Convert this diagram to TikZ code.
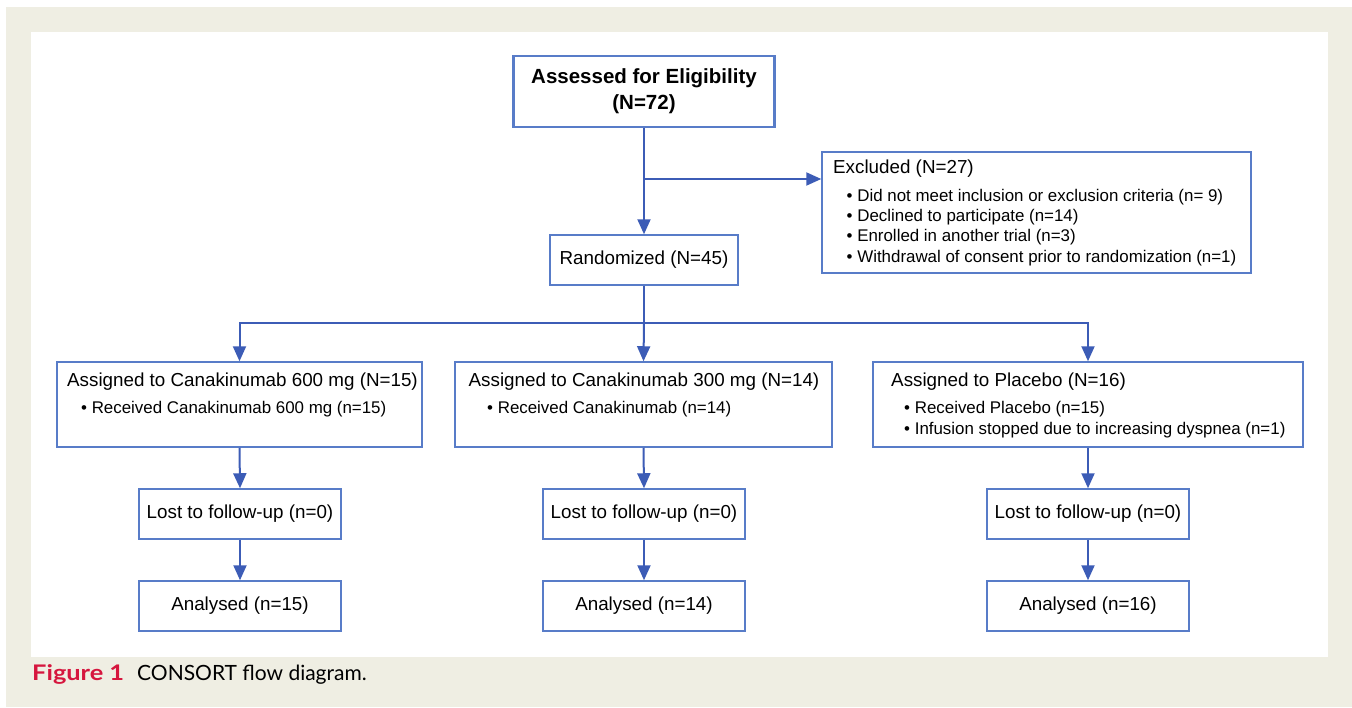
\documentclass[tikz,border=0pt]{standalone}
\usepackage{fontspec}
\setmainfont{Liberation Sans}
\newfontfamily\capfont{Lato}
\usetikzlibrary{arrows.meta}
\definecolor{beige}{RGB}{239,238,227}
\definecolor{boxblue}{RGB}{88,124,200}
\definecolor{lineblue}{RGB}{60,92,182}
\definecolor{figred}{RGB}{214,22,62}
\tikzset{
  box/.style={draw=boxblue, line width=1.5pt, fill=white, rectangle, inner sep=0pt, align=center,
    font=\fontsize{18.8}{22}\selectfont},
  head/.style={anchor=base west, inner sep=0pt, font=\fontsize{18.8}{22}\selectfont},
  item/.style={anchor=base west, inner sep=0pt, font=\fontsize{16.9}{20}\selectfont},
  conn/.style={draw=lineblue, line width=2pt},
  arr/.style={conn, -{Triangle[length=15pt,width=13pt]}},
}
\begin{document}
\begin{tikzpicture}[x=1pt,y=-1pt]
\useasboundingbox (0,0) rectangle (1352,707);
\fill[white] (0,0) rectangle (1352,707);
\fill[beige] (6,7) rectangle (1352,707);
\fill[white] (31,32) rectangle (1328,657);

% top
\node[box, line width=2.5pt, minimum width=261pt, minimum height=71pt,
  font=\fontsize{20.5}{26}\selectfont\bfseries] (assess) at (644,91.5)
  {Assessed for Eligibility\\(N=72)};
\node[box, minimum width=429pt, minimum height=121pt] (excl) at (1036.5,212.5) {};
\node[head] (exclh) at (833,173) {Excluded (N=27)};
\node[item] (ex1) at (846.5,201) {• Did not meet inclusion or exclusion criteria (n= 9)};
\node[item] (ex2) at (846.5,221.3) {• Declined to participate (n=14)};
\node[item] (ex3) at (846.5,241.6) {• Enrolled in another trial (n=3)};
\node[item] (ex4) at (846.5,262) {• Withdrawal of consent prior to randomization (n=1)};

\node[box, minimum width=188pt, minimum height=50pt] (rand) at (644,260) {Randomized (N=45)};

% arms
\node[box, minimum width=365pt, minimum height=85pt] (arm1) at (239.5,404.5) {};
\node[head] (arm1h) at (67,386) {Assigned to Canakinumab 600 mg (N=15)};
\node[item] (arm1a) at (81,413) {• Received Canakinumab 600 mg (n=15)};

\node[box, minimum width=377pt, minimum height=85pt] (arm2) at (643.5,404.5) {};
\node[head] (arm2h) at (468.5,386) {Assigned to Canakinumab 300 mg (N=14)};
\node[item] (arm2a) at (487,413) {• Received Canakinumab (n=14)};

\node[box, minimum width=430pt, minimum height=85pt] (arm3) at (1088,404.5) {};
\node[head] (arm3h) at (891,386) {Assigned to Placebo (N=16)};
\node[item] (arm3a) at (904,413) {• Received Placebo (n=15)};
\node[item] (arm3b) at (904,434) {• Infusion stopped due to increasing dyspnea (n=1)};

% lost / analysed
\node[box, minimum width=202pt, minimum height=50pt] (lost1) at (240,514) {Lost to follow-up (n=0)};
\node[box, minimum width=202pt, minimum height=50pt] (lost2) at (644,514) {Lost to follow-up (n=0)};
\node[box, minimum width=202pt, minimum height=50pt] (lost3) at (1088,514) {Lost to follow-up (n=0)};
\node[box, minimum width=202pt, minimum height=50pt] (anal1) at (240,606) {Analysed (n=15)};
\node[box, minimum width=202pt, minimum height=50pt] (anal2) at (644,606) {Analysed (n=14)};
\node[box, minimum width=202pt, minimum height=50pt] (anal3) at (1088,606) {Analysed (n=16)};

% connectors
\coordinate (br) at (644,179);
\coordinate (split) at (644,323);
\draw[arr] (assess.south) -- (rand.north);
\draw[arr] (br) -- (br -| excl.west);
\draw[conn] (rand.south) -- (split);
\draw[arr] (split) -| (arm1.north);
\draw[arr] (split) -- (arm2.north);
\draw[arr] (split) -| (arm3.north);
\foreach \i in {1,2,3}{
  \draw[arr] (arm\i.south) -- (lost\i.north);
  \draw[arr] (lost\i.south) -- (anal\i.north);
}

% caption
\node[anchor=base west, inner sep=0pt, text=figred, font=\capfont\bfseries\fontsize{21.5}{24}\selectfont] (figlab) at (32,680) {\scalebox{1.18}[1]{Figure 1}};
\node[anchor=base west, inner sep=0pt, font=\capfont\fontsize{21}{24}\selectfont] (figcap) at (137,680) {CONSORT flow diagram.};
\end{tikzpicture}
\end{document}
